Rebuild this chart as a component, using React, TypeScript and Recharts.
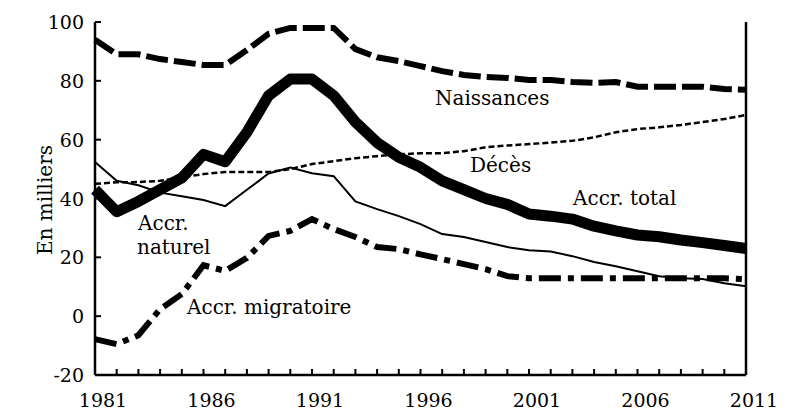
import { LineChart, Line, XAxis, YAxis, Customized } from 'recharts';

const years = [
  1981, 1982, 1983, 1984, 1985, 1986, 1987, 1988, 1989, 1990, 1991, 1992, 1993, 1994, 1995, 1996,
  1997, 1998, 1999, 2000, 2001, 2002, 2003, 2004, 2005, 2006, 2007, 2008, 2009, 2010, 2011,
];
const naissances = [
  94, 89, 89, 87.4, 86.4, 85.4, 85.4, 90.5, 96, 98, 98, 98, 90.8, 88, 86.7, 85, 83.3, 82, 81.3, 81,
  80.3, 80.3, 79.6, 79.3, 79.6, 78, 78, 78, 78, 77.2, 77,
];
const deces = [
  45, 45.5, 45.6, 46, 47.2, 48.3, 49, 49, 49, 50, 51.7, 52.7, 53.7, 54.4, 55, 55.4, 55.4, 56.1, 57.4,
  58, 58.5, 59, 59.6, 60.8, 62.5, 63.6, 64.2, 65, 66, 67, 68.4,
];
const accrTotal = [
  43, 35.5, 39, 43, 47, 55, 52.5, 62.5, 75, 80.6, 80.6, 75, 66, 59, 54, 50.6, 46, 43, 40, 38, 34.7,
  34, 33, 30.6, 29, 27.6, 27, 25.9, 25, 24, 23,
];
const accrNaturel = [
  52.4, 46, 44.5, 42, 40.8, 39.5, 37.4, 43, 48.5, 50.5, 48.6, 47.6, 39, 36.4, 34, 31.3, 27.9, 26.9,
  25.2, 23.5, 22.4, 22, 20.4, 18.4, 17, 15.3, 13.6, 12.9, 12.6, 11.2, 10.2,
];
const accrMigratoire = [
  -7.8, -9.5, -6.5, 2.4, 7.5, 17.3, 15.4, 19.8, 27.3, 29, 33, 29.6, 26.9, 23.5, 22.8, 21, 19.4, 17.7,
  16, 13.6, 12.9, 12.9, 12.9, 12.9, 12.9, 12.9, 12.9, 12.9, 12.9, 12.9, 12.6,
];
const yTicks = [-20, 0, 20, 40, 60, 80, 100];
const labelYears = [1981, 1986, 1991, 1996, 2001, 2006, 2011];

const data = years.map((year, i) => ({
  year,
  naissances: naissances[i],
  deces: deces[i],
  total: accrTotal[i],
  naturel: accrNaturel[i],
  migratoire: accrMigratoire[i],
}));

const FONT = '"DejaVu Serif", serif';

const XTick = (props: any) => {
  const { x, y, payload } = props;
  const show = labelYears.includes(payload.value);
  return (
    <g>
      <line x1={x} y1={y} x2={x} y2={y - 6} stroke="#000" strokeWidth={2} />
      {show && (
        <text x={x + 8} y={y + 32} textAnchor="middle" fontFamily={FONT} fontSize={19} fill="#000">
          {payload.value}
        </text>
      )}
    </g>
  );
};

const LeftTick = (props: any) => {
  const { x, y, payload } = props;
  return (
    <g>
      <line x1={x} y1={y} x2={x + 6} y2={y} stroke="#000" strokeWidth={2} />
      <text x={x - 11} y={y + 7} textAnchor="end" fontFamily={FONT} fontSize={19} fill="#000">
        {payload.value}
      </text>
    </g>
  );
};

const RightTick = (props: any) => {
  const { x, y, payload } = props;
  return (
    <g>
      <line x1={x} y1={y} x2={x - 6} y2={y} stroke="#000" strokeWidth={2} />
      <text x={x + 14} y={y + 7} textAnchor="start" fontFamily={FONT} fontSize={19} fill="#000">
        {payload.value}
      </text>
    </g>
  );
};

const Notes = () => (
  <g fontFamily={FONT} fontSize={20} fill="#000">
    <text x={435} y={105}>Naissances</text>
    <text x={470} y={172}>Décès</text>
    <text x={573} y={205}>Accr. total</text>
    <text x={138} y={230}>Accr.</text>
    <text x={137} y={254}>naturel</text>
    <text x={187} y={314}>Accr. migratoire</text>
    <text x={52} y={200} textAnchor="middle" transform="rotate(-90 52 200)">
      En milliers
    </text>
  </g>
);

export default function App() {
  return (
    <div style={{ position: 'absolute', left: 0, top: 0, background: '#fff' }}>
      <LineChart width={803} height={415} data={data} margin={{ top: 22, right: 0, bottom: 0, left: 0 }}>
        <XAxis
          dataKey="year"
          type="number"
          domain={[1981, 2011]}
          ticks={years}
          interval={0}
          height={40}
          tickSize={0}
          tickMargin={0}
          tick={<XTick />}
          axisLine={{ stroke: '#000', strokeWidth: 2.5 }}
          tickLine={false}
        />
        <YAxis
          yAxisId="left"
          domain={[-20, 100]}
          ticks={yTicks}
          interval={0}
          width={95}
          tickSize={0}
          tickMargin={0}
          tick={<LeftTick />}
          axisLine={{ stroke: '#000', strokeWidth: 2.5 }}
          tickLine={false}
        />
        <YAxis
          yAxisId="right"
          orientation="right"
          domain={[-20, 100]}
          ticks={yTicks}
          interval={0}
          width={57}
          tickSize={0}
          tickMargin={0}
          tick={<RightTick />}
          axisLine={{ stroke: '#000', strokeWidth: 2.5 }}
          tickLine={false}
        />
        <Line
          yAxisId="left"
          dataKey="naissances"
          stroke="#000"
          strokeWidth={6}
          strokeDasharray="22 6"
          dot={false}
          isAnimationActive={false}
        />
        <Line
          yAxisId="left"
          dataKey="deces"
          stroke="#000"
          strokeWidth={2.5}
          strokeDasharray="6 3"
          dot={false}
          isAnimationActive={false}
        />
        <Line
          yAxisId="left"
          dataKey="naturel"
          stroke="#000"
          strokeWidth={2}
          dot={false}
          isAnimationActive={false}
        />
        <Line
          yAxisId="left"
          dataKey="migratoire"
          stroke="#000"
          strokeWidth={6}
          strokeDasharray="22 7 6 7"
          dot={false}
          isAnimationActive={false}
        />
        <Line
          yAxisId="left"
          dataKey="total"
          stroke="#000"
          strokeWidth={11}
          strokeLinejoin="round"
          dot={false}
          isAnimationActive={false}
        />
        <Customized component={Notes} />
      </LineChart>
    </div>
  );
}
